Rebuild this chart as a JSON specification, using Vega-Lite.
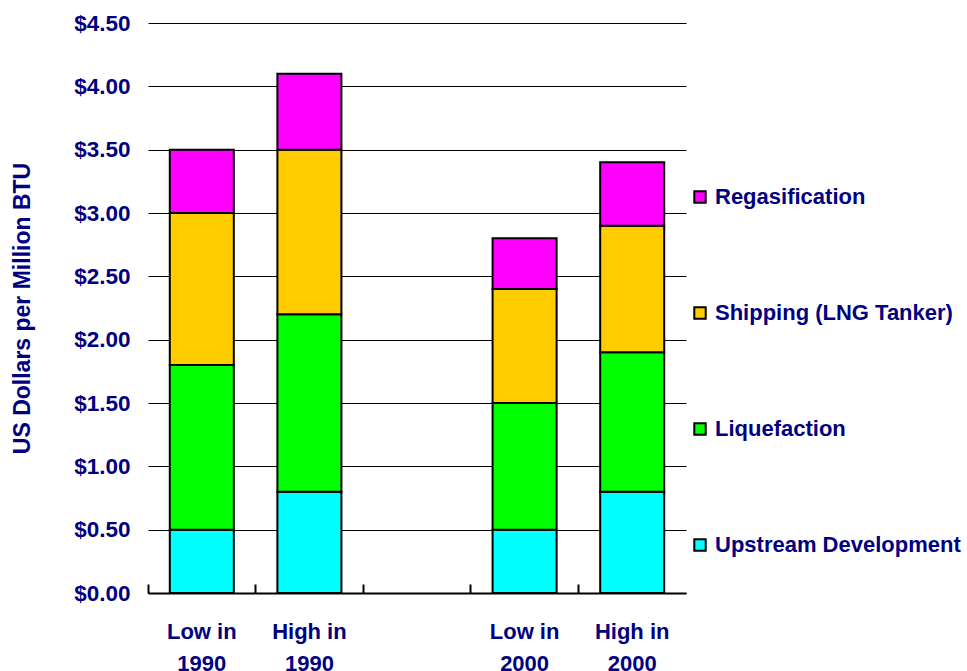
{
  "$schema": "https://vega.github.io/schema/vega-lite/v6.json",
  "width": 538,
  "height": 570,
  "autosize": {"type": "none"},
  "padding": {"left": 148, "top": 23, "right": 281, "bottom": 78},
  "background": "white",
  "config": {
    "view": {"stroke": null},
    "font": "Liberation Sans"
  },
  "data": {
    "values": [
      {"scenario": "Low in 1990", "component": "Upstream Development", "cost": 0.5},
      {"scenario": "Low in 1990", "component": "Liquefaction", "cost": 1.3},
      {"scenario": "Low in 1990", "component": "Shipping (LNG Tanker)", "cost": 1.2},
      {"scenario": "Low in 1990", "component": "Regasification", "cost": 0.5},
      {"scenario": "High in 1990", "component": "Upstream Development", "cost": 0.8},
      {"scenario": "High in 1990", "component": "Liquefaction", "cost": 1.4},
      {"scenario": "High in 1990", "component": "Shipping (LNG Tanker)", "cost": 1.3},
      {"scenario": "High in 1990", "component": "Regasification", "cost": 0.6},
      {"scenario": "Low in 2000", "component": "Upstream Development", "cost": 0.5},
      {"scenario": "Low in 2000", "component": "Liquefaction", "cost": 1.0},
      {"scenario": "Low in 2000", "component": "Shipping (LNG Tanker)", "cost": 0.9},
      {"scenario": "Low in 2000", "component": "Regasification", "cost": 0.4},
      {"scenario": "High in 2000", "component": "Upstream Development", "cost": 0.8},
      {"scenario": "High in 2000", "component": "Liquefaction", "cost": 1.1},
      {"scenario": "High in 2000", "component": "Shipping (LNG Tanker)", "cost": 1.0},
      {"scenario": "High in 2000", "component": "Regasification", "cost": 0.5}
    ]
  },
  "transform": [
    {"calculate": "indexof(['Upstream Development','Liquefaction','Shipping (LNG Tanker)','Regasification'], datum.component)", "as": "stackOrder"}
  ],
  "mark": {"type": "bar", "stroke": "black", "strokeWidth": 2, "width": {"band": 0.595}},
  "encoding": {
    "x": {
      "field": "scenario",
      "type": "nominal",
      "scale": {"domain": ["Low in 1990", "High in 1990", " ", "Low in 2000", "High in 2000"], "paddingInner": 0, "paddingOuter": 0},
      "axis": {
        "title": null,
        "bandPosition": 0,
        "domainColor": "black",
        "domainWidth": 2,
        "tickColor": "black",
        "tickWidth": 2,
        "tickSize": -9,
        "labelAngle": 0,
        "labelFont": "Liberation Sans",
        "labelFontSize": 22,
        "labelFontWeight": "bold",
        "labelColor": "#000080",
        "labelBaseline": "top",
        "labelLineHeight": 32,
        "labelPadding": 37,
        "labelExpr": "datum.value == ' ' ? '' : [substring(datum.value, 0, length(datum.value) - 5), substring(datum.value, length(datum.value) - 4)]"
      }
    },
    "y": {
      "field": "cost",
      "type": "quantitative",
      "aggregate": "sum",
      "stack": "zero",
      "scale": {"domain": [0, 4.5], "nice": false},
      "axis": {
        "title": "US Dollars per Million BTU",
        "titleFont": "Liberation Sans",
        "titleFontSize": 23,
        "titleFontWeight": "bold",
        "titleColor": "#000080",
        "titleX": -126,
        "titleBaseline": "middle",
        "values": [0, 0.5, 1, 1.5, 2, 2.5, 3, 3.5, 4, 4.5],
        "format": "$.2f",
        "domain": false,
        "ticks": false,
        "grid": true,
        "gridColor": "black",
        "gridWidth": 1.2,
        "gridOpacity": 1,
        "labelFont": "Liberation Sans",
        "labelFontSize": 22.5,
        "labelFontWeight": "bold",
        "labelColor": "#000080",
        "labelPadding": 18
      }
    },
    "color": {
      "field": "component",
      "type": "nominal",
      "scale": {
        "domain": ["Regasification", "Shipping (LNG Tanker)", "Liquefaction", "Upstream Development"],
        "range": ["#FF00FF", "#FFCC00", "#00FF00", "#00FFFF"]
      },
      "legend": {
        "title": null,
        "orient": "none",
        "legendX": 541,
        "legendY": 163,
        "symbolType": "square",
        "symbolSize": 130,
        "symbolStrokeColor": "black",
        "symbolStrokeWidth": 2,
        "symbolOpacity": 1,
        "labelFont": "Liberation Sans",
        "labelFontSize": 22,
        "labelFontWeight": "bold",
        "labelColor": "#000080",
        "labelOffset": 4,
        "labelLimit": 400,
        "rowPadding": 94
      }
    },
    "order": {"field": "stackOrder", "type": "quantitative"}
  }
}
